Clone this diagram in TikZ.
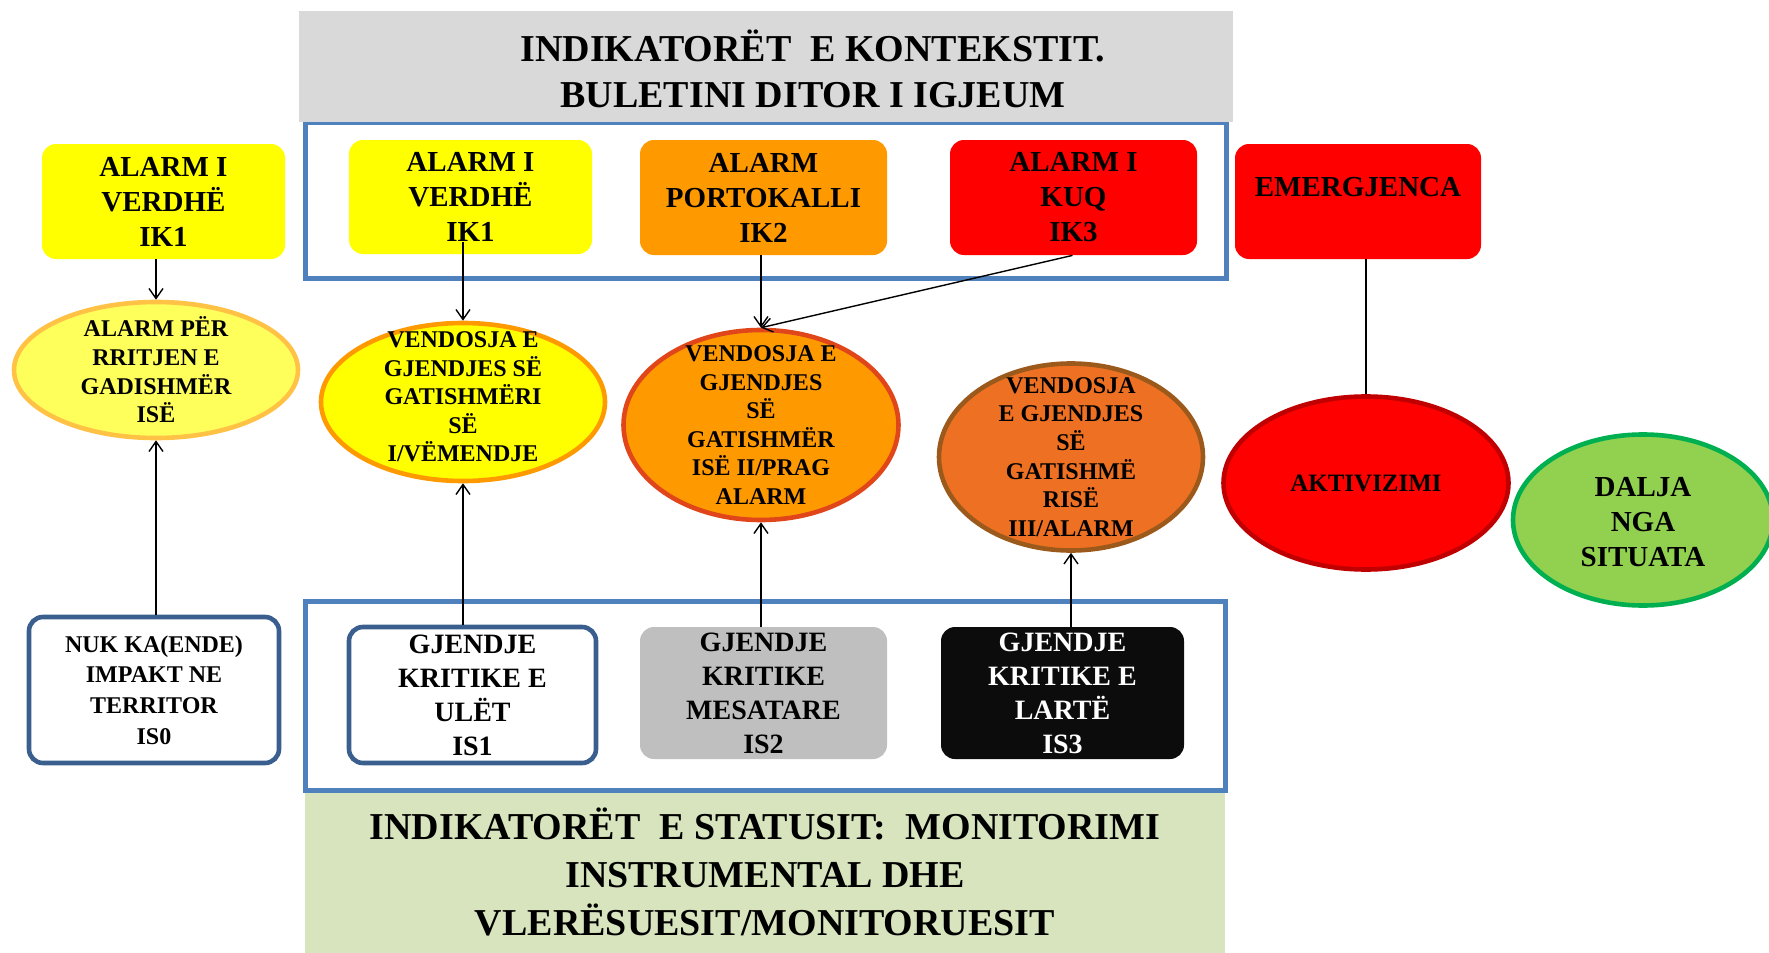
\documentclass[tikz,border=0pt]{standalone}
\usepackage{fontspec}
\setmainfont{Liberation Serif}
\usetikzlibrary{shapes.geometric,arrows.meta}
\definecolor{cYel}{HTML}{FFFF00}
\definecolor{cLY}{HTML}{FFFF5C}
\definecolor{cLYb}{HTML}{FFC245}
\definecolor{cOr}{HTML}{FF9900}
\definecolor{cE2b}{HTML}{E0461A}
\definecolor{cE3}{HTML}{EE7022}
\definecolor{cE3b}{HTML}{9B5A1C}
\definecolor{cRed}{HTML}{FF0000}
\definecolor{cAktb}{HTML}{C00000}
\definecolor{cGreen}{HTML}{92D050}
\definecolor{cGreenb}{HTML}{00B050}
\definecolor{cGray}{HTML}{D9D9D9}
\definecolor{cOlive}{HTML}{D7E4BD}
\definecolor{cBlue}{HTML}{4F81BD}
\definecolor{cBlueD}{HTML}{3A5F8F}
\definecolor{cIS2}{HTML}{BFBFBF}
\definecolor{cIS3}{HTML}{0C0C0C}
\begin{document}
\begin{tikzpicture}[x=0.5pt,y=-0.5pt,
  sz/.style 2 args={minimum width=#1*0.5pt,minimum height=#2*0.5pt},
  boxfont/.style={font=\bfseries\fontsize{14.5}{17.5}\selectfont},
  ellfont/.style={font=\bfseries\fontsize{12}{14.3}\selectfont},
  rbox/.style={rectangle,rounded corners=7pt,align=center,inner sep=0pt,boxfont},
  sbox/.style={rectangle,rounded corners=7pt,align=center,inner sep=0pt,font=\bfseries\fontsize{14}{17}\selectfont},
  ell/.style={ellipse,line width=2.3pt,inner sep=0pt},
  ellbl/.style={align=center,ellfont,inner sep=0pt},
  frame/.style={rectangle,draw=cBlue,line width=2.5pt,inner sep=0pt},
  banner/.style={rectangle,inner sep=0pt,align=center,font=\bfseries\fontsize{19}{23}\selectfont},
  arr/.style={-{Straight Barb[length=5pt,width=7pt]},line width=0.7pt,black},
  conn/.style={line width=0.7pt,black}]
\useasboundingbox (0,0) rectangle (1769,953);

% frames and banners
\node[frame,sz={921}{156}] (topframe) at (765.5,200) {};
\node[banner,fill=cGray,sz={934}{111},
  label={[banner,xshift=23.5pt,yshift=-1.25pt]center:{INDIKATORËT\ \ E KONTEKSTIT.\\BULETINI DITOR I IGJEUM}}] (topbanner) at (766,66.5) {};
\node[banner,fill=cOlive,sz={920}{163},font=\bfseries\fontsize{19}{24}\selectfont] (botbanner) at (765,871.5)
  {INDIKATORËT\ \ E STATUSIT:\ \ MONITORIMI\\INSTRUMENTAL DHE\\VLERËSUESIT/MONITORUESIT};
\node[frame,sz={920}{189}] (botframe) at (765,695.5) {};

% top boxes
\node[rbox,fill=cYel,sz={243}{115}] (lk1) at (163.5,201.5) {ALARM I\\VERDHË\\IK1};
\node[rbox,fill=cYel,sz={243}{114}] (ik1) at (470.5,197) {ALARM I\\VERDHË\\IK1};
\node[rbox,fill=cOr,sz={247}{115}] (ik2) at (763.5,197.5) {ALARM\\PORTOKALLI\\IK2};
\node[rbox,fill=cRed,sz={247}{115}] (ik3) at (1073.5,197.5) {ALARM I\\KUQ\\IK3};
\node[rbox,fill=cRed,sz={246}{115},label={[boxfont,yshift=7.25pt]center:EMERGJENCA}] (emerg) at (1358,201.5) {};

% ellipses
\node[ell,fill=cLY,draw=cLYb,sz={284}{136},
  label={[ellbl]center:{ALARM PËR\\RRITJEN E\\GADISHMËR\\ISË}}] (e0) at (156,370) {};
\node[ell,fill=cYel,draw=cOr,sz={284}{158},
  label={[ellbl,yshift=2.5pt]center:{VENDOSJA E\\GJENDJES SË\\GATISHMËRI\\SË\\I/VËMENDJE}}] (e1) at (463,402) {};
\node[ell,fill=cOr,draw=cE2b,sz={275}{190},
  label={[ellbl]center:{VENDOSJA E\\GJENDJES\\SË\\GATISHMËR\\ISË II/PRAG\\ALARM}}] (e2) at (761,425) {};
\node[ell,fill=cE3,draw=cE3b,sz={264}{187},
  label={[ellbl]center:{VENDOSJA\\E GJENDJES\\SË\\GATISHMË\\RISË\\III/ALARM}}] (e3) at (1071,457) {};
\node[ell,fill=cRed,draw=cAktb,sz={285}{173},
  label={[font=\bfseries\fontsize{12.5}{15}\selectfont]center:AKTIVIZIMI}] (akt) at (1366,483) {};
\node[ell,fill=cGreen,draw=cGreenb,sz={260}{171},
  label={[boxfont,align=center,yshift=-1pt]center:{DALJA\\NGA\\SITUATA}}] (dalja) at (1643,520) {};

% bottom boxes
\node[rbox,fill=white,draw=cBlueD,line width=2.3pt,sz={250}{146},font=\bfseries\fontsize{12}{15.3}\selectfont] (is0) at (154,690)
  {NUK KA(ENDE)\\IMPAKT NE\\TERRITOR\\IS0};
\node[sbox,fill=white,draw=cBlueD,line width=2.3pt,sz={247}{136}] (is1) at (472.5,695) {GJENDJE\\KRITIKE E\\ULËT\\IS1};
\node[sbox,fill=cIS2,sz={247}{132}] (is2) at (763.5,693) {GJENDJE\\KRITIKE\\MESATARE\\IS2};
\node[sbox,fill=cIS3,text=white,sz={243}{132}] (is3) at (1062.5,693) {GJENDJE\\KRITIKE E\\LARTË\\IS3};

% connectors
\draw[arr] (e0.north |- lk1.south) -- (e0.north);
\draw[arr] (e0.south |- is0.north) -- (e0.south);
\draw[arr] ([yshift=6pt]e1.north |- ik1.south) -- (e1.north);
\draw[arr] (e1.south |- is1.north) -- (e1.south);
\draw[arr] (e2.north |- ik2.south) -- (e2.north);
\draw[arr] ([xshift=-0.5pt]ik3.south) -- (e2.north);
\draw[arr] (e2.south |- is2.north) -- (e2.south);
\draw[arr] (e3.south |- is3.north) -- (e3.south);
\draw[conn] (akt.north |- emerg.south) -- (akt.north);
\end{tikzpicture}
\end{document}
